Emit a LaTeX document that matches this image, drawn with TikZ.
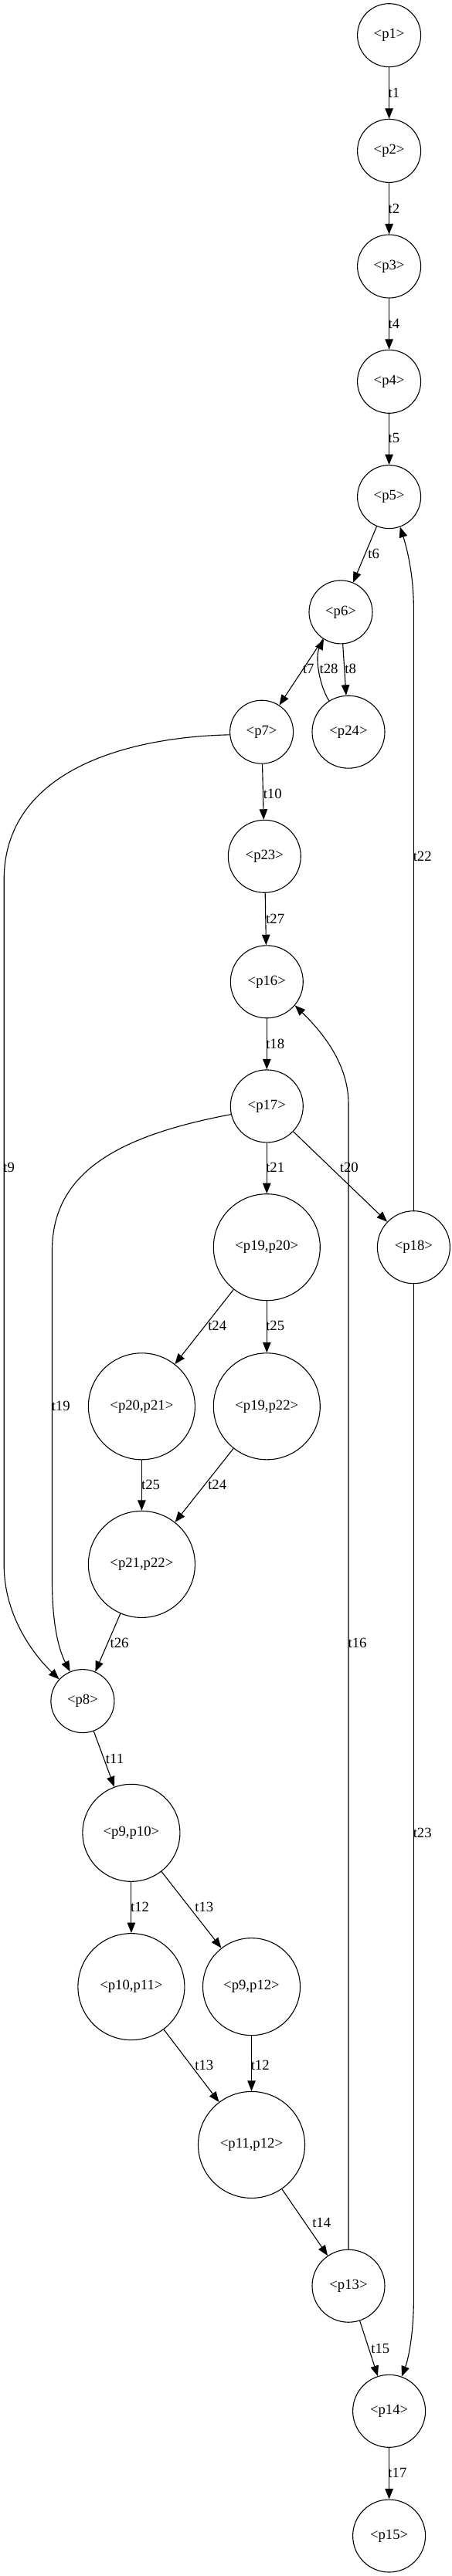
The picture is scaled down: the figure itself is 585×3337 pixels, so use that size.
\documentclass[tikz,border=0pt]{standalone}
\usepackage{fontspec}
\setmainfont{Liberation Serif}
\usetikzlibrary{arrows.meta}
\begin{document}
\begin{tikzpicture}[x=1pt,y=-1pt,
  pl/.style={circle,draw,line width=1.1pt,inner sep=0pt,font=\fontsize{18.7}{20}\selectfont},
  ps/.style={pl,minimum size=82pt},
  pm/.style={pl,minimum size=94pt},
  pb/.style={pl,minimum size=138pt},
  pc/.style={pl,minimum size=126pt},
  arr/.style={line width=1.1pt,-{Triangle[length=13.5pt,width=10.5pt]}},
  lbl/.style={inner sep=0pt,font=\fontsize{18.7}{20}\selectfont}]
\useasboundingbox (0,0) rectangle (585,3337);
% nodes
\node[ps] (p1) at (503.6,45.7) {<p1>};
\node[ps] (p2) at (503.6,195.4) {<p2>};
\node[ps] (p3) at (503.6,345) {<p3>};
\node[ps] (p4) at (503.6,494.3) {<p4>};
\node[ps] (p5) at (503.6,643.6) {<p5>};
\node[ps] (p6) at (441,792.9) {<p6>};
\node[ps] (p7) at (338.6,948.2) {<p7>};
\node[pm] (p24) at (451,948.2) {<p24>};
\node[pm] (p23) at (342.3,1109.3) {<p23>};
\node[pm] (p16) at (345.3,1271.8) {<p16>};
\node[pm] (p17) at (345.3,1432.9) {<p17>};
\node[pb] (p1920) at (345.3,1615.7) {<p19,p20>};
\node[pm] (p18) at (535.4,1615.7) {<p18>};
\node[pb] (p2021) at (183.4,1821.8) {<p20,p21>};
\node[pb] (p1922) at (345.3,1821.8) {<p19,p22>};
\node[pb] (p2122) at (183.4,2026.4) {<p21,p22>};
\node[ps] (p8) at (106.9,2203.6) {<p8>};
\node[pc] (p910) at (169.9,2374.3) {<p9,p10>};
\node[pb] (p1011) at (169.9,2573.6) {<p10,p11>};
\node[pc] (p912) at (325.5,2573.6) {<p9,p12>};
\node[pb] (p1112) at (325.5,2778.4) {<p11,p12>};
\node[pm] (p13) at (451,2961.2) {<p13>};
\node[pm] (p14) at (503.6,3123.3) {<p14>};
\node[pm] (p15) at (503.6,3285) {<p15>};
% straight edges
\draw[arr] (p1) -- (p2);
\draw[arr] (p2) -- (p3);
\draw[arr] (p3) -- (p4);
\draw[arr] (p4) -- (p5);
\draw[arr] (p5) -- (p6);
\draw[arr] (p6) -- (p7);
\draw[arr] (p6) -- (p24);
\draw[arr] (p24.122) .. controls (412,885) and (408,850) .. (p6.-122);
\draw[arr] (p7) -- (p23);
\draw[arr] (p23) -- (p16);
\draw[arr] (p16) -- (p17);
\draw[arr] (p17) -- (p1920);
\draw[arr] (p17) -- (p18);
\draw[arr] (p1920) -- (p2021);
\draw[arr] (p1920) -- (p1922);
\draw[arr] (p2021) -- (p2122);
\draw[arr] (p1922) -- (p2122);
\draw[arr] (p2122) -- (p8);
\draw[arr] (p8) -- (p910);
\draw[arr] (p910) -- (p1011);
\draw[arr] (p910) -- (p912);
\draw[arr] (p1011) -- (p1112);
\draw[arr] (p912) -- (p1112);
\draw[arr] (p1112) -- (p13);
\draw[arr] (p13) -- (p14);
\draw[arr] (p14) -- (p15);
% long curved edges
\draw[arr] (p7.185) .. controls (160,955) and (5.2,1000) .. (5.2,1140)
  -- (5.2,2027) .. controls (5.2,2090) and (40,2140) .. (p8.137);
\draw[arr] (p17.193) .. controls (160,1470) and (67.5,1515) .. (67.5,1620)
  -- (67.5,2048) .. controls (67.5,2100) and (75,2135) .. (p8.113);
\draw[arr] (p13.90) -- (451,1430) .. controls (451,1380) and (420,1340) .. (p16.-40);
\draw[arr] (p18.90) -- (535.4,790) .. controls (535.4,740) and (525,705) .. (p5.-70);
\draw[arr] (p18.-90) -- (535.4,2976) .. controls (535.4,3030) and (527,3060) .. (p14.70);
% labels
\node[lbl] (lt1) at (510,120.4) {t1};
\node[lbl] (lt2) at (510,270.4) {t2};
\node[lbl] (lt4) at (510,419.6) {t4};
\node[lbl] (lt5) at (510,567.9) {t5};
\node[lbl] (lt6) at (483.7,717.5) {t6};
\node[lbl] (lt7) at (399.3,866) {t7};
\node[lbl] (lt28) at (425.6,866) {t28};
\node[lbl] (lt8) at (453.7,866) {t8};
\node[lbl] (lt10) at (352.7,1028.6) {t10};
\node[lbl] (lt9) at (11.6,1512.5) {t9};
\node[lbl] (lt27) at (356.2,1190) {t27};
\node[lbl] (lt18) at (356.2,1352) {t18};
\node[lbl] (lt21) at (356.2,1512.5) {t21};
\node[lbl] (lt20) at (451.8,1512.5) {t20};
\node[lbl] (lt22) at (546.7,1109.3) {t22};
\node[lbl] (lt19) at (78.7,1821.3) {t19};
\node[lbl] (lt24) at (281.2,1717.5) {t24};
\node[lbl] (lt25) at (356.2,1717.5) {t25};
\node[lbl] (lt25b) at (195,1922.9) {t25};
\node[lbl] (lt24b) at (281.2,1922.9) {t24};
\node[lbl] (lt26) at (154.5,2127.9) {t26};
\node[lbl] (lt16) at (462.5,2127.9) {t16};
\node[lbl] (lt11) at (148.5,2277.9) {t11};
\node[lbl] (lt12) at (181.1,2470) {t12};
\node[lbl] (lt13) at (264.3,2470) {t13};
\node[lbl] (lt23) at (546.7,2374.3) {t23};
\node[lbl] (lt13b) at (264.3,2675) {t13};
\node[lbl] (lt12b) at (336.7,2675) {t12};
\node[lbl] (lt14) at (416.2,2879.6) {t14};
\node[lbl] (lt15) at (492.3,3042) {t15};
\node[lbl] (lt17) at (514.4,3203) {t17};
\end{tikzpicture}
\end{document}
